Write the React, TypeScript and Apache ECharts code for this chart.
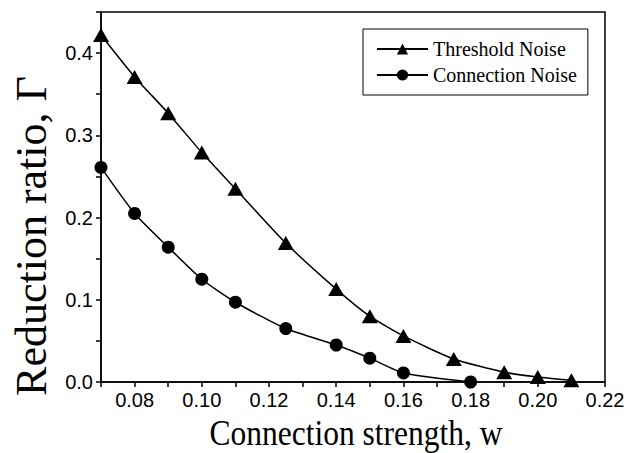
import React, { useEffect, useRef } from "react";
import * as echarts from "echarts";

const wValues = [0.07, 0.08, 0.09, 0.10, 0.11, 0.125, 0.14, 0.15, 0.16, 0.175, 0.19, 0.20, 0.21];
const thresholdNoise = [0.422, 0.371, 0.327, 0.279, 0.235, 0.169, 0.113, 0.080, 0.056, 0.028, 0.012, 0.006, 0.002];
const wConnection = [0.07, 0.08, 0.09, 0.10, 0.11, 0.125, 0.14, 0.15, 0.16, 0.18];
const connectionNoise = [0.261, 0.205, 0.164, 0.125, 0.097, 0.065, 0.045, 0.029, 0.011, 0.0];

const seriesNames = ["Threshold Noise", "Connection Noise"];
const xTitle = "Connection strength, w";
const yTitle = "Reduction ratio, Γ";

export default function App() {
  const ref = useRef<HTMLDivElement>(null);
  useEffect(() => {
    if (!ref.current) return;
    const chart = echarts.init(ref.current, null, { renderer: "svg" });
    const sansLabel = { fontFamily: "Liberation Sans", fontSize: 20, color: "#000" };
    const tick = { show: true, inside: false, length: 5, lineStyle: { color: "#000", width: 1.5 } };
    chart.setOption({
      animation: false,
      backgroundColor: "#fff",
      grid: {
        left: 101,
        right: 29,
        top: 12,
        bottom: 71,
        show: true,
        borderColor: "#000",
        borderWidth: 1.5,
        containLabel: false,
        outerBoundsMode: "none",
      },
      graphic: [
        {
          type: "text",
          x: 356,
          y: 433,
          scaleY: 1.12,
          style: {
            text: xTitle,
            fontFamily: "Liberation Serif",
            fontSize: 31.5,
            fill: "#000",
            textAlign: "center",
            textVerticalAlign: "middle",
          },
        },
        {
          type: "text",
          x: 31,
          y: 236,
          rotation: Math.PI / 2,
          style: {
            text: yTitle,
            fontFamily: "Liberation Serif",
            fontSize: 44,
            fill: "#000",
            textAlign: "center",
            textVerticalAlign: "middle",
          },
        },
      ],
      legend: {
        orient: "vertical",
        left: 363,
        top: 29,
        padding: [10, 11, 10, 13],
        borderColor: "#000",
        borderWidth: 1,
        itemWidth: 51,
        itemHeight: 14,
        itemGap: 6,
        textStyle: { fontFamily: "Liberation Serif", fontSize: 20, color: "#000", lineHeight: 20 },
        data: seriesNames,
      },
      xAxis: {
        type: "value",
        min: 0.07,
        max: 0.22,
        interval: 0.01,
        axisLine: { show: true, onZero: false, lineStyle: { color: "#000", width: 1.5 } },
        axisTick: tick,
        splitLine: { show: false },
        axisLabel: {
          ...sansLabel,
          margin: 8,
          formatter: (v: number) => {
            const k = Math.round(v * 100);
            return k % 2 === 0 ? (k / 100).toFixed(2) : "";
          },
        },
      },
      yAxis: {
        type: "value",
        min: 0,
        max: 0.45,
        interval: 0.05,
        axisLine: { show: true, onZero: false, lineStyle: { color: "#000", width: 1.5 } },
        axisTick: tick,
        splitLine: { show: false },
        axisLabel: {
          ...sansLabel,
          margin: 8,
          formatter: (v: number) => {
            const k = Math.round(v * 100);
            return k % 10 === 0 ? (k / 100).toFixed(1) : "";
          },
        },
      },
      series: [
        {
          name: seriesNames[0],
          type: "line",
          data: wValues.map((w, i) => [w, thresholdNoise[i]]),
          smooth: 0.2,
          symbol: "triangle",
          symbolSize: [16, 14],
          itemStyle: { color: "#000" },
          lineStyle: { color: "#000", width: 1.5 },
        },
        {
          name: seriesNames[1],
          type: "line",
          data: wConnection.map((w, i) => [w, connectionNoise[i]]),
          smooth: 0.2,
          symbol: "circle",
          symbolSize: 13,
          itemStyle: { color: "#000" },
          lineStyle: { color: "#000", width: 1.5 },
        },
      ],
    });
    return () => chart.dispose();
  }, []);
  return <div ref={ref} style={{ width: 634, height: 453, position: "absolute", left: 0, top: 0 }} />;
}
